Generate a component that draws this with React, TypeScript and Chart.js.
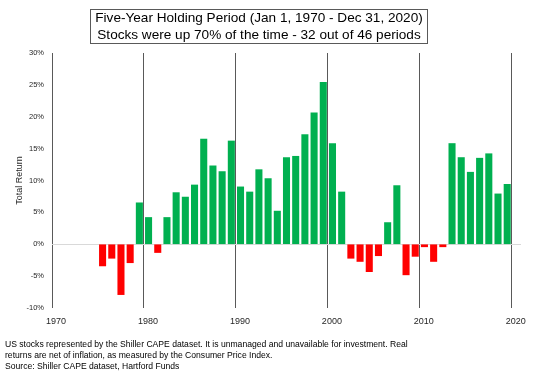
import React, { useEffect, useRef } from "react";
import { Chart, registerables } from "chart.js";

Chart.register(...registerables);

const TITLE_LINES = [
  "Five-Year Holding Period (Jan 1, 1970 - Dec 31, 2020)",
  "Stocks were up 70% of the time - 32 out of 46 periods",
];
const FOOTNOTES = [
  "US stocks represented by the Shiller CAPE dataset. It is unmanaged and unavailable for investment. Real",
  "returns are net of inflation, as measured by the Consumer Price Index.",
  "Source: Shiller CAPE dataset, Hartford Funds",
];
const Y_TITLE = "Total Return";

const YEARS = [
  1975, 1976, 1977, 1978, 1979, 1980, 1981, 1982, 1983, 1984,
  1985, 1986, 1987, 1988, 1989, 1990, 1991, 1992, 1993, 1994,
  1995, 1996, 1997, 1998, 1999, 2000, 2001, 2002, 2003, 2004,
  2005, 2006, 2007, 2008, 2009, 2010, 2011, 2012, 2013, 2014,
  2015, 2016, 2017, 2018, 2019,
];
const RETURNS = [
  -3.4, -2.2, -7.9, -2.9, 6.5, 4.2, -1.3, 4.2, 8.1, 7.4,
  9.3, 16.5, 12.3, 11.4, 16.2, 9.0, 8.2, 11.7, 10.3, 5.2,
  13.6, 13.8, 17.2, 20.6, 25.4, 15.8, 8.2, -2.2, -2.7, -4.3,
  -1.8, 3.4, 9.2, -4.8, -1.9, -0.4, -2.7, -0.4, 15.8, 13.6,
  11.3, 13.5, 14.2, 7.9, 9.4,
];
const X_TICKS = [1970, 1980, 1990, 2000, 2010, 2020];
const Y_MIN = -10;
const Y_MAX = 30;

const GREEN = "#00B050";
const RED = "#FF0000";
const FONT = "'Liberation Sans', Arial, sans-serif";

const titleBoxPlugin = {
  id: "titleBox",
  afterDraw(chart: any) {
    const ctx = chart.ctx;
    ctx.save();
    ctx.fillStyle = "#ffffff";
    ctx.strokeStyle = "#595959";
    ctx.lineWidth = 1;
    ctx.fillRect(90.5, 9.5, 337, 34);
    ctx.strokeRect(90.5, 9.5, 337, 34);
    ctx.fillStyle = "#000000";
    ctx.font = `13.6px ${FONT}`;
    ctx.textAlign = "center";
    ctx.textBaseline = "middle";
    ctx.fillText(TITLE_LINES[0], 259, 18.5);
    ctx.fillText(TITLE_LINES[1], 259, 35);
    ctx.restore();
  },
};

export default function App() {
  const ref = useRef<HTMLCanvasElement | null>(null);

  useEffect(() => {
    document.body.style.margin = "0";
    if (!ref.current) return;
    const data = YEARS.map((yr, i) => ({ x: yr + 0.5, y: RETURNS[i] }));
    const chart = new Chart(ref.current, {
      type: "bar",
      data: {
        datasets: [
          {
            data: data as any,
            backgroundColor: RETURNS.map((v) => (v >= 0 ? GREEN : RED)),
            barThickness: 6.4,
            borderWidth: 0,
          },
        ],
      },
      options: {
        animation: false,
        responsive: false,
        maintainAspectRatio: false,
        layout: { padding: { left: 0, right: 19, top: 53, bottom: 36 } },
        plugins: {
          legend: { display: false },
          title: { display: false },
          tooltip: { enabled: false },
        },
        scales: {
          x: {
            type: "linear",
            min: 1970,
            max: 2021,
            offset: false,
            afterBuildTicks: (scale: any) => {
              scale.ticks = X_TICKS.map((v) => ({ value: v }));
            },
            afterFit: (scale: any) => {
              scale.height = 30;
            },
            grid: {
              offset: false,
              drawTicks: false,
              color: "#595959",
              lineWidth: 1,
            },
            border: { display: false },
            ticks: {
              padding: 8,
              labelOffset: 4,
              maxRotation: 0,
              autoSkip: false,
              color: "#262626",
              font: { family: FONT, size: 9 },
              callback: (v: any) => String(v),
            },
          },
          y: {
            type: "linear",
            min: Y_MIN,
            max: Y_MAX,
            afterFit: (scale: any) => {
              scale.width = 52;
            },
            grid: {
              drawTicks: false,
              color: (c: any) => (c.tick && c.tick.value === 0 ? "#d9d9d9" : "rgba(0,0,0,0)"),
              lineWidth: 1,
            },
            border: { display: false },
            title: {
              display: true,
              text: Y_TITLE,
              color: "#262626",
              font: { family: FONT, size: 9 },
              padding: { top: 14, bottom: 0 },
            },
            ticks: {
              stepSize: 5,
              padding: 8,
              color: "#262626",
              font: { family: FONT, size: 7.5 },
              callback: (v: any) => `${v}%`,
            },
          },
        },
      },
      plugins: [titleBoxPlugin],
    });
    return () => chart.destroy();
  }, []);

  return (
    <div style={{ position: "relative", width: 540, height: 374, background: "#fff" }}>
      <canvas ref={ref} width={540} height={374} style={{ display: "block" }} />
      <div
        style={{
          position: "absolute",
          left: 5,
          top: 339,
          fontFamily: FONT,
          fontSize: 8.6,
          lineHeight: "11px",
          color: "#000",
          whiteSpace: "nowrap",
        }}
      >
        {FOOTNOTES.map((t, i) => (
          <div key={i}>{t}</div>
        ))}
      </div>
    </div>
  );
}
